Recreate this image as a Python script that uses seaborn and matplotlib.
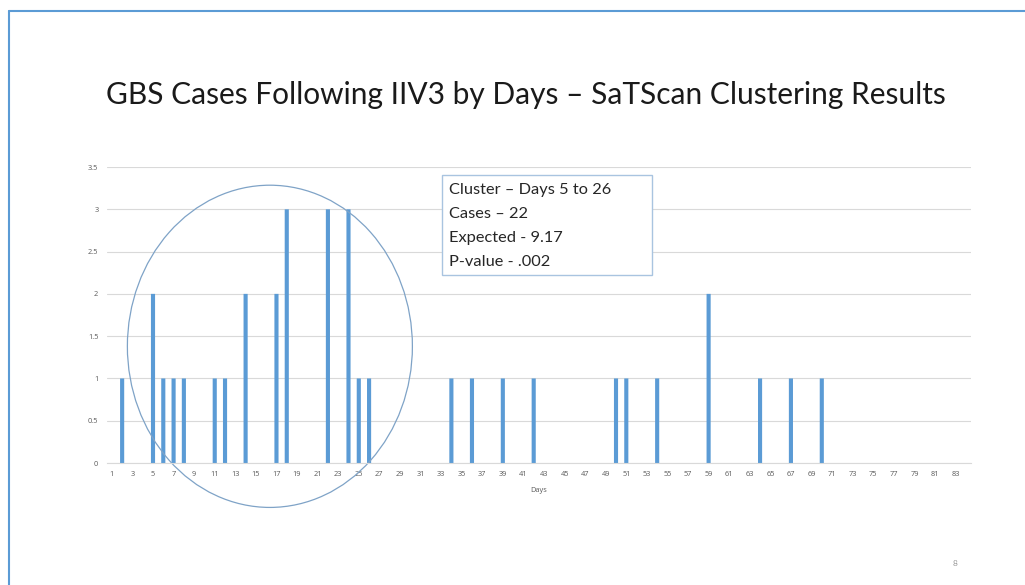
import pandas as pd
import seaborn as sns
import matplotlib.pyplot as plt
from matplotlib.patches import Ellipse, Rectangle
from matplotlib.lines import Line2D

# -----------------------------
# Data
# -----------------------------
days = [2, 5, 6, 7, 8, 11, 12, 14, 17, 18, 22, 24, 25, 26,
        34, 36, 39, 42, 50, 51, 54, 59, 64, 67, 70]
cases = [1, 2, 1, 1, 1, 1, 1, 2, 2, 3, 3, 3, 1, 1,
         1, 1, 1, 1, 1, 1, 1, 2, 1, 1, 1]
tick_days = list(range(1, 84, 2))
y_ticks = [0, 0.5, 1, 1.5, 2, 2.5, 3, 3.5]
y_labels = ["0", "0.5", "1", "1.5", "2", "2.5", "3", "3.5"]
box_lines = ["Cluster \u2013 Days 5 to 26", "Cases \u2013 22",
             "Expected - 9.17", "P-value - .002"]

gbs = pd.DataFrame({"Days": days, "Cases": cases})

# -----------------------------
# Figure
# -----------------------------
sns.set_theme(style="white")
plt.rcParams["font.family"] = ["Lato", "DejaVu Sans"]

fig = plt.figure(figsize=(10.25, 5.85), dpi=100)
ax = fig.add_axes([0.1041, 0.2085, 0.8432, 0.506])

sns.barplot(
    x="Days",
    y="Cases",
    data=gbs,
    native_scale=True,
    width=0.4,
    color="#5b9bd5",
    saturation=1,
    ax=ax
)
# keep every bar the same width (no pixel snapping)
for bar in ax.patches:
    bar.set_snap(False)
    bar.set_linewidth(0)

small = dict(fontsize=5.3, color="#595959", family="Open Sans")

ax.set_xlim(0.5, 84.5)
ax.set_ylim(0, 3.5)
ax.set_xticks(tick_days)
ax.set_xticklabels([str(d) for d in tick_days], **small)
ax.set_yticks(y_ticks)
ax.set_yticklabels(y_labels, **small)
ax.tick_params(axis="both", length=0, pad=6)
ax.yaxis.grid(True, color="#d9d9d9", linewidth=0.8)
ax.set_axisbelow(True)
for side in ["top", "right", "left"]:
    ax.spines[side].set_visible(False)
ax.spines["bottom"].set_color("#d9d9d9")
ax.spines["bottom"].set_linewidth(0.8)
ax.set_xlabel("Days", labelpad=6, **small)
ax.set_ylabel("")

# cluster circle
ax.add_patch(Ellipse((16.36, 1.38), 27.7, 3.81, fill=False,
                     edgecolor="#7fa3c7", linewidth=0.9, clip_on=False))

# title
fig.text(0.513, 0.838, "GBS Cases Following IIV3 by Days \u2013 SaTScan Clustering Results",
         ha="center", va="center", fontsize=21.5, color="#1a1a1a")

# results box
fig.patches.append(Rectangle((442 / 1025, 1 - 275 / 585), 210 / 1025, 100 / 585,
                             transform=fig.transFigure, fill=True, facecolor="white",
                             edgecolor="#a9c4e0", linewidth=1.0, zorder=5))
for i, line in enumerate(box_lines):
    fig.text(449 / 1025, 1 - (190 + 24 * i) / 585, line, ha="left", va="center",
             fontsize=11.8, color="#262626", zorder=6)

# slide border and page number
fig.lines.append(Line2D([9 / 1025, 9 / 1025], [0, 1 - 11 / 585], transform=fig.transFigure,
                        color="#5b9bd5", linewidth=1.5))
fig.lines.append(Line2D([9 / 1025, 1], [1 - 11 / 585, 1 - 11 / 585], transform=fig.transFigure,
                        color="#5b9bd5", linewidth=1.5))
fig.text(955 / 1025, 1 - 563 / 585, "8", ha="center", va="center", fontsize=6, color="#9a9a9a")

plt.savefig("out.png", dpi=100)
